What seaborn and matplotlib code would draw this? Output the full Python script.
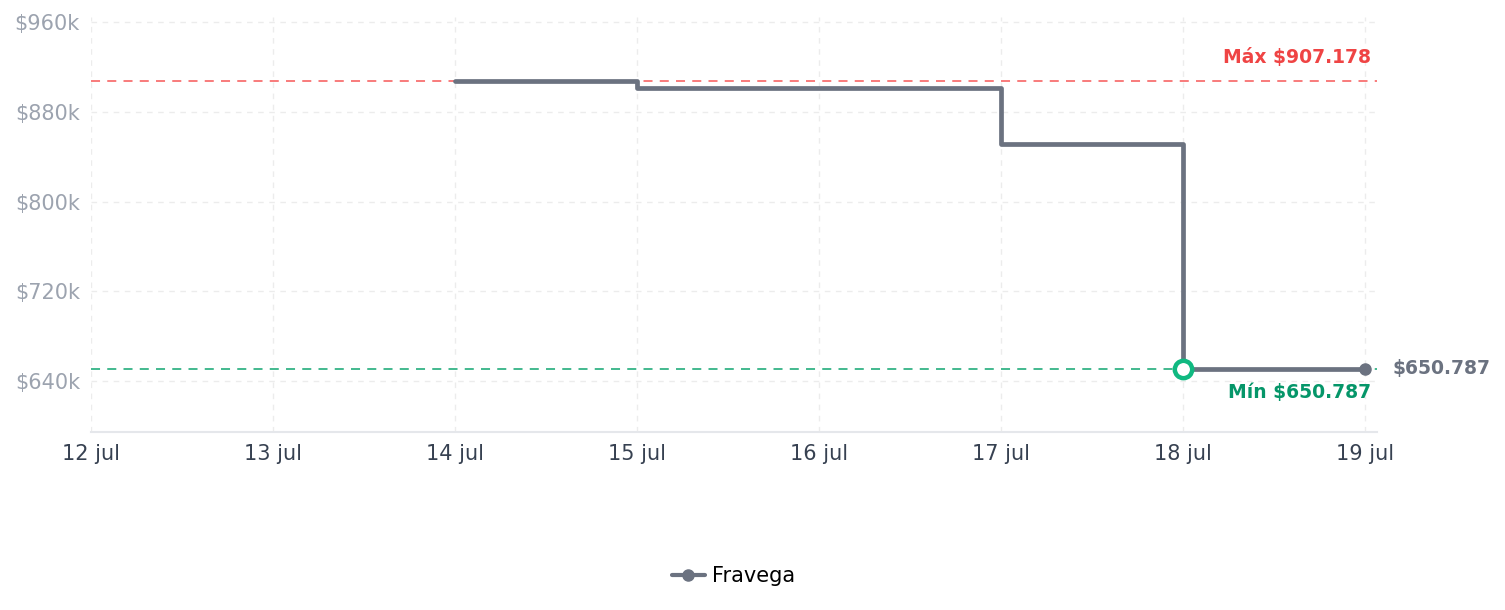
import pandas as pd
import matplotlib.pyplot as plt
from matplotlib.lines import Line2D
import seaborn as sns

# --- data ---
dates = ["2025-07-14", "2025-07-15", "2025-07-16", "2025-07-17", "2025-07-18", "2025-07-19"]
prices = [907178, 901300, 901300, 851600, 650787, 650787]
store = "Fravega"
max_price = 907178
min_price = 650787
min_date = "2025-07-18"
tick_dates = ["2025-07-12", "2025-07-13", "2025-07-14", "2025-07-15",
              "2025-07-16", "2025-07-17", "2025-07-18", "2025-07-19"]
tick_labels = ["12 jul", "13 jul", "14 jul", "15 jul", "16 jul", "17 jul", "18 jul", "19 jul"]
y_ticks = [640000, 720000, 800000, 880000, 960000]
y_labels = ["$640k", "$720k", "$800k", "$880k", "$960k"]

df = pd.DataFrame({"date": pd.to_datetime(dates), "price": prices})

sns.set_style("white")
plt.rcParams["font.family"] = ["DejaVu Sans"]

grey = "#6b7280"
fig = plt.figure(figsize=(15.05, 6.10), dpi=100)
ax = fig.add_axes([0.0605, 0.292, 0.8545, 0.68])

# reference lines
ax.axhline(max_price, color="#f87171", lw=1.3, ls=(0, (5, 4)), zorder=1)
ax.axhline(min_price, color="#34b386", lw=1.3, ls=(0, (5, 4)), zorder=1)

sns.lineplot(data=df, x="date", y="price", ax=ax, color=grey, lw=3.4,
             drawstyle="steps-post", legend=False, zorder=3)

# end point + min marker
last = df.iloc[-1]
ax.plot(last["date"], last["price"], "o", color=grey, ms=8, zorder=4)
ax.plot(pd.to_datetime(min_date), min_price, "o", mfc="white", mec="#10b981",
        mew=3.2, ms=12.5, zorder=5)

# axes limits/ticks
x0 = pd.to_datetime(tick_dates[0])
x1 = pd.to_datetime(tick_dates[-1]) + pd.Timedelta(hours=1.6)
ax.set_xlim(x0, x1)
ax.set_ylim(594700, 964400)
ax.set_xticks(pd.to_datetime(tick_dates))
ax.set_xticklabels(tick_labels)
ax.set_yticks(y_ticks)
ax.set_yticklabels(y_labels)
ax.tick_params(axis="x", colors="#374151", labelsize=15, length=0, pad=9)
ax.tick_params(axis="y", colors="#9ca3af", labelsize=15, length=0, pad=8)
ax.set_xlabel("")
ax.set_ylabel("")

ax.grid(True, color="#ececec", ls=(0, (4, 4)), lw=1)
for s in ["top", "right", "left"]:
    ax.spines[s].set_visible(False)
ax.spines["bottom"].set_color("#e5e7eb")
ax.spines["bottom"].set_linewidth(1.5)

# annotations
xr = pd.to_datetime(tick_dates[-1]) + pd.Timedelta(hours=0.75)
ax.annotate("Máx $907.178", xy=(xr, max_price), xytext=(0, 17), textcoords="offset points",
            ha="right", va="center", color="#ef4444", fontsize=13.5, fontweight="bold")
ax.annotate("Mín $650.787", xy=(xr, min_price), xytext=(0, -17), textcoords="offset points",
            ha="right", va="center", color="#059669", fontsize=13.5, fontweight="bold")
ax.annotate("$650.787", xy=(last["date"], last["price"]), xytext=(20, 0),
            textcoords="offset points", ha="left", va="center", color=grey,
            fontsize=13.5, fontweight="bold", annotation_clip=False)

handle = Line2D([], [], color=grey, lw=3, marker="o", ms=8)
leg = fig.legend([handle], [store], loc="center", bbox_to_anchor=(0.4875, 0.056),
                 frameon=False, fontsize=15, handlelength=1.6, handletextpad=0.35)
for t in leg.get_texts():
    t.set_color("black")

fig.savefig("out.png", dpi=100)
